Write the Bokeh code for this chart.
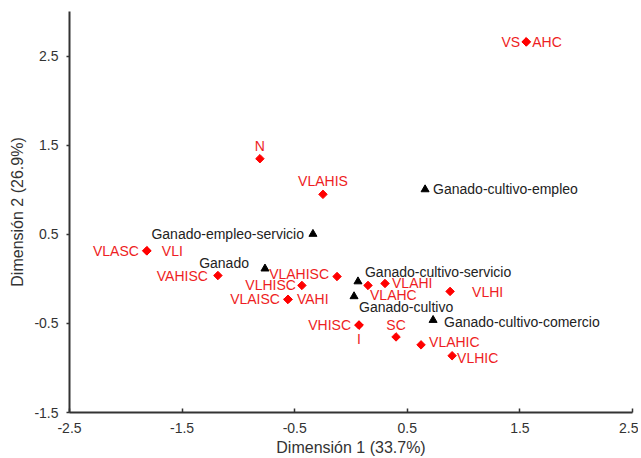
import math
from bokeh.plotting import figure
from bokeh.models import ColumnDataSource, Range1d, FixedTicker
from bokeh.embed import file_html
from bokeh.resources import INLINE
from bokeh.core.properties import value

# ---- data ----
perfil_names = ["VS", "AHC", "N", "VLAHIS", "VLASC", "VLI", "VAHISC", "VLAHISC",
                "VLHISC", "VLAISC", "VAHI", "VHISC", "I", "VLAHC", "VLAHI", "VLHI",
                "SC", "VLAHIC", "VLHIC"]
perfil_x = [1.556, 1.556, -0.809, -0.249, -1.813, -1.813, -1.182, -0.124,
            -0.436, -0.560, -0.560, 0.071, 0.071, 0.151, 0.302, 0.880,
            0.400, 0.622, 0.898]
perfil_y = [2.659, 2.659, 1.348, 0.948, 0.314, 0.314, 0.037, 0.026,
            -0.074, -0.230, -0.230, -0.519, -0.519, -0.074, -0.052, -0.141,
            -0.652, -0.741, -0.863]

tipo_names = ["Ganado-cultivo-empleo", "Ganado-empleo-servicio", "Ganado",
              "Ganado-cultivo-servicio", "Ganado-cultivo", "Ganado-cultivo-comercio"]
tipo_x = [0.658, -0.338, -0.764, 0.062, 0.027, 0.729]
tipo_y = [1.003, 0.503, 0.114, -0.030, -0.197, -0.463]

x_ticks = [-2.5, -1.5, -0.5, 0.5, 1.5, 2.5]
y_ticks = [-1.5, -0.5, 0.5, 1.5, 2.5]
x_tick_labels = ["-2.5", "-1.5", "-0.5", "0.5", "1.5", "2.5"]
y_tick_labels = ["-1.5", "-0.5", "0.5", "1.5", "2.5"]
x_title = "Dimensión 1 (33.7%)"
y_title = "Dimensión 2 (26.9%)"

# ---- label placement (style): align, baseline, dx px, dy px ----
placement = {
    "VS": ("right", "middle", -6, 0),
    "AHC": ("left", "middle", 6, 0),
    "N": ("center", "bottom", 0, -5),
    "VLAHIS": ("center", "bottom", 0, -5),
    "VLASC": ("right", "middle", -8, 0),
    "VLI": ("left", "middle", 15, 0),
    "VAHISC": ("right", "middle", -10, 0),
    "VLAHISC": ("right", "middle", -8, -3),
    "VLHISC": ("right", "middle", -6, 0),
    "VLAISC": ("right", "middle", -8, 0),
    "VAHI": ("left", "middle", 9, 0),
    "VHISC": ("right", "middle", -8, 0),
    "I": ("center", "top", 0, 6),
    "VLAHC": ("left", "middle", 2, 10),
    "VLAHI": ("left", "middle", 7, 0),
    "VLHI": ("left", "middle", 22, 1),
    "SC": ("center", "bottom", 0, -4),
    "VLAHIC": ("left", "middle", 8, -3),
    "VLHIC": ("left", "middle", 5, 2),
    "Ganado-cultivo-empleo": ("left", "middle", 8, 0),
    "Ganado-empleo-servicio": ("right", "middle", -9, 0),
    "Ganado": ("right", "middle", -16, -6),
    "Ganado-cultivo-servicio": ("left", "middle", 7, -10),
    "Ganado-cultivo": ("left", "middle", 5, 11),
    "Ganado-cultivo-comercio": ("left", "middle", 11, 2),
}

FONT = "Liberation Sans"
RED = "#ee1d23"
DARK = "#333333"


def label_source(names, xs, ys):
    return ColumnDataSource(dict(
        x=xs, y=ys, text=names,
        align=[placement[n][0] for n in names],
        baseline=[placement[n][1] for n in names],
        dx=[placement[n][2] for n in names],
        dy=[placement[n][3] for n in names],
    ))


p = figure(width=638, height=458, output_backend="svg", toolbar_location=None,
           x_range=Range1d(-2.5, 2.5), y_range=Range1d(-1.5, 3.0),
           min_border_left=69, min_border_right=6, min_border_top=11,
           min_border_bottom=46)
p.outline_line_color = None
p.grid.grid_line_color = None
p.background_fill_color = "white"
p.border_fill_color = "white"

# markers
p.scatter(perfil_x, perfil_y, marker="square", angle=math.pi / 4, size=6,
          fill_color="red", line_color="red", line_width=1)
p.scatter(tipo_x, tipo_y, marker="triangle", size=8,
          fill_color="black", line_color="black")

# labels
ps = label_source(perfil_names, perfil_x, perfil_y)
p.text(x="x", y="y", text="text", source=ps, text_align="align",
       text_baseline="baseline", x_offset="dx", y_offset="dy",
       text_font=value(FONT), text_font_size="14px", text_color=RED)
ts = label_source(tipo_names, tipo_x, tipo_y)
p.text(x="x", y="y", text="text", source=ts, text_align="align",
       text_baseline="baseline", x_offset="dx", y_offset="dy",
       text_font=value(FONT), text_font_size="14px", text_color="#222222")

# axes
p.xaxis.ticker = FixedTicker(ticks=x_ticks)
p.yaxis.ticker = FixedTicker(ticks=y_ticks)
p.xaxis.major_label_overrides = dict(zip(x_ticks, x_tick_labels))
p.yaxis.major_label_overrides = dict(zip(y_ticks, y_tick_labels))
for ax in (p.xaxis[0], p.yaxis[0]):
    ax.axis_line_width = 2
    ax.axis_line_color = DARK
    ax.major_tick_line_color = DARK
    ax.major_tick_line_width = 1.5
    ax.minor_tick_line_color = None
    ax.major_label_text_font = FONT
    ax.major_label_text_font_size = "14px"
    ax.major_label_text_color = DARK
    ax.axis_label_text_font = FONT
    ax.axis_label_text_font_size = "16px"
    ax.axis_label_text_font_style = "normal"
    ax.axis_label_text_color = DARK

p.xaxis.axis_label = x_title
p.yaxis.axis_label = y_title
p.xaxis.major_tick_in = 4
p.xaxis.major_tick_out = 0
p.yaxis.major_tick_in = 0
p.yaxis.major_tick_out = 3
p.xaxis.major_label_standoff = 10
p.xaxis.axis_label_standoff = 3
p.yaxis.major_label_standoff = 8
p.yaxis.axis_label_standoff = 5

open("out.html", "w").write(file_html(p, INLINE))
